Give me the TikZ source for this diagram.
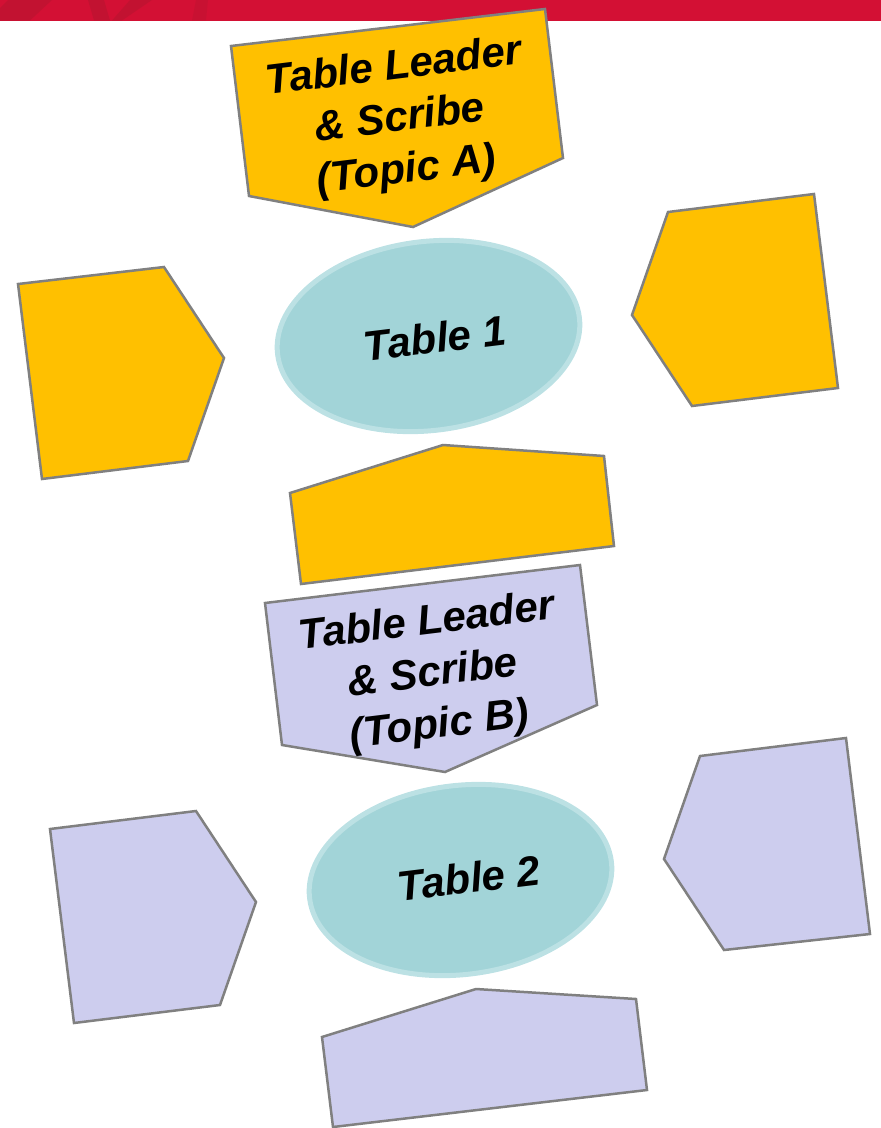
\documentclass[tikz,border=0pt]{standalone}
\usepackage{fontspec}
\setmainfont{Liberation Sans}
\usetikzlibrary{shapes.geometric}

\definecolor{banner}{HTML}{D31034}
\definecolor{bannerdark}{HTML}{B8142F}
\definecolor{seatA}{HTML}{FFC000}
\definecolor{seatB}{HTML}{CDCDEE}
\definecolor{seatline}{HTML}{808080}
\definecolor{tablefill}{HTML}{A2D4D8}
\definecolor{tablerim}{HTML}{BCE1E4}

\tikzset{
    seat/.style={draw=seatline, line width=2.5pt},
    tableoval/.style={ellipse, draw=tablerim, fill=tablefill, line width=5pt,
        minimum width=304pt, minimum height=189pt, inner sep=0pt, rotate=7},
    seatlabel/.style={font=\fontsize{42}{52}\selectfont\bfseries\itshape,
        align=center, rotate=7, inner sep=0pt},
}

\begin{document}
\begin{tikzpicture}[x=1pt, y=-1pt]
        \useasboundingbox (0,0) rectangle (881,1128);

        % banner
        \fill[banner] (0,0) rectangle (881,20.5);
        \fill[bannerdark, opacity=.6] (0,20.5) -- (0,8) -- (8,0) -- (52,0) -- (30,20.5) -- cycle;
        \fill[bannerdark, opacity=.6] (88,0) -- (104,0) -- (110,20.5) -- (94,20.5) -- cycle;
        \fill[bannerdark, opacity=.6] (130,0) -- (152,0) -- (122,20.5) -- (112,20.5) -- cycle;
        \fill[bannerdark, opacity=.4] (196,0) -- (208,0) -- (206,20.5) -- (192,20.5) -- cycle;

        % table 1
        \draw[seat, fill=seatA] (231,46) -- (545,9) -- (563,158) -- (413,227) -- (249,196) -- cycle;
        \node[seatlabel] (leaderA) at (400,120) {Table Leader\\\& Scribe\\(Topic A)};
        \draw[seat, fill=seatA] (18,284) -- (164,267) -- (224,358) -- (188,461) -- (42,479) -- cycle;
        \draw[seat, fill=seatA] (668,212) -- (814,194) -- (838,388) -- (692,406) -- (632,315) -- cycle;
        \draw[seat, fill=seatA] (290,493) -- (443,445) -- (604,456) -- (614,546) -- (301,584) -- cycle;
        \node[tableoval] (table1) at (428.5,336) {};
        \node[seatlabel] (table1text) at (435,338) {Table 1};

        % table 2
        \draw[seat, fill=seatB] (265,603) -- (580,565) -- (597,705) -- (445,772) -- (282,745) -- cycle;
        \node[seatlabel] (leaderB) at (433,675) {Table Leader\\\& Scribe\\(Topic B)};
        \draw[seat, fill=seatB] (50,829) -- (196,811) -- (256,902) -- (220,1005) -- (74,1023) -- cycle;
        \draw[seat, fill=seatB] (700,756) -- (846,738) -- (870,934) -- (724,950) -- (664,859) -- cycle;
        \draw[seat, fill=seatB] (322,1037) -- (476,989) -- (636,999) -- (647,1090) -- (333,1127) -- cycle;
        \node[tableoval] (table2) at (460.5,880) {};
        \node[seatlabel] (table2text) at (469,878) {Table 2};
    \end{tikzpicture}
\end{document}
